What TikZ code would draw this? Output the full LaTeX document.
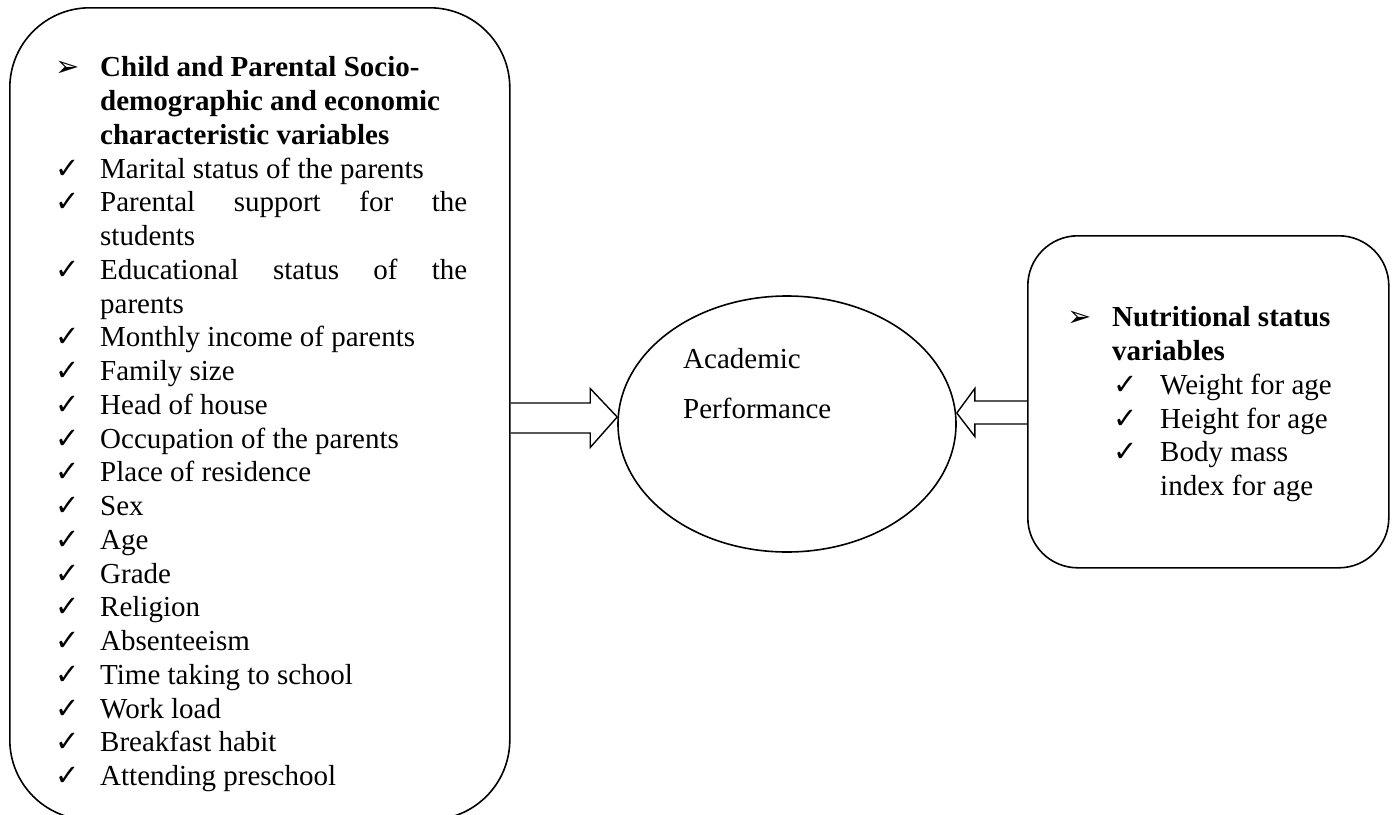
\documentclass[tikz,border=0pt]{standalone}
\usepackage{fontspec}
\setmainfont{Liberation Serif}
\newfontfamily\symfont{DejaVu Sans}
\usetikzlibrary{shapes.geometric,calc}

\newcommand{\bodyfont}{\fontsize{29}{33.76}\selectfont}
\newcommand{\pointitem}[1]{\par\noindent\hangindent=45pt\hangafter=1%
  \makebox[45pt][l]{\symfont\fontsize{29}{29}\selectfont ➢}\textbf{#1}}
\newcommand{\tickitem}[1]{\par\noindent\hangindent=45pt\hangafter=1%
  \makebox[45pt][l]{\symfont\fontsize{29}{29}\selectfont ✓}#1}
\newcommand{\subtickitem}[1]{\par\noindent\hangindent=93pt\hangafter=1%
  \hspace*{46pt}\makebox[47pt][l]{\symfont\fontsize{29}{29}\selectfont ✓}#1}

\begin{document}
\begin{tikzpicture}[x=1pt,y=-1pt,
    roundbox/.style={draw,line width=1.6pt,anchor=north west,inner sep=0pt},
    listtext/.style={font=\bodyfont,align=justify,inner sep=0pt,anchor=base west},
    blockarrow/.style={draw,line width=1.4pt,line join=miter}]
  \useasboundingbox (0,0) rectangle (1397,814);

  % the two boxes and the ellipse
  \node[roundbox,rounded corners=80pt,minimum width=500pt,minimum height=812pt] (leftbox) at (9,7) {};
  \node[roundbox,rounded corners=50pt,minimum width=361pt,minimum height=332pt] (rightbox) at (1027,235) {};
  \node[draw,ellipse,line width=1.6pt,minimum width=338pt,minimum height=256pt,inner sep=0pt] (perf) at (787,424) {};

  % texts
  \node[listtext,text width=412pt] (leftlist) at (55,43) {%
    \pointitem{Child and Parental Socio-\newline demographic and economic\newline characteristic variables}
    \tickitem{Marital status of the parents}
    \tickitem{Parental support for the\linebreak students}
    \tickitem{Educational status of the\linebreak parents}
    \tickitem{Monthly income of parents}
    \tickitem{Family size}
    \tickitem{Head of house}
    \tickitem{Occupation of the parents}
    \tickitem{Place of residence}
    \tickitem{Sex}
    \tickitem{Age}
    \tickitem{Grade}
    \tickitem{Religion}
    \tickitem{Absenteeism}
    \tickitem{Time taking to school}
    \tickitem{Work load}
    \tickitem{Breakfast habit}
    \tickitem{Attending preschool}\par};
  \node[listtext,text width=310pt] (rightlist) at (1067,293) {%
    \pointitem{Nutritional status\newline variables}
    \subtickitem{Weight for age}
    \subtickitem{Height for age}
    \subtickitem{Body mass\newline index for age}\par};
  \node[font=\bodyfont,anchor=base west,inner sep=0pt] (acad) at (683,368) {Academic};
  \node[font=\bodyfont,anchor=base west,inner sep=0pt] (perform) at (683,418) {Performance};

  % block arrows into the ellipse
  \coordinate (ltail) at (leftbox.east |- 0,418);
  \coordinate (ltip) at (perf.west |- 0,417);
  \coordinate (rtail) at (rightbox.west |- 0,412.5);
  \coordinate (rtip) at (perf.east |- 0,413);
  \draw[blockarrow] let \p1=(ltail), \p2=(ltip) in
    (\x1,\y1+15pt) -- (\x2-27pt,\y1+15pt) -- (\x2-27pt,\y1+29.5pt) -- (\p2)
    -- (\x2-27pt,\y1-29.5pt) -- (\x2-27pt,\y1-15pt) -- (\x1,\y1-15pt);
  \draw[blockarrow] let \p1=(rtail), \p2=(rtip) in
    (\x1,\y1+11.5pt) -- (\x2+18pt,\y1+11.5pt) -- (\x2+18pt,\y1+24pt) -- (\p2)
    -- (\x2+18pt,\y1-24pt) -- (\x2+18pt,\y1-11.5pt) -- (\x1,\y1-11.5pt);
\end{tikzpicture}
\end{document}
